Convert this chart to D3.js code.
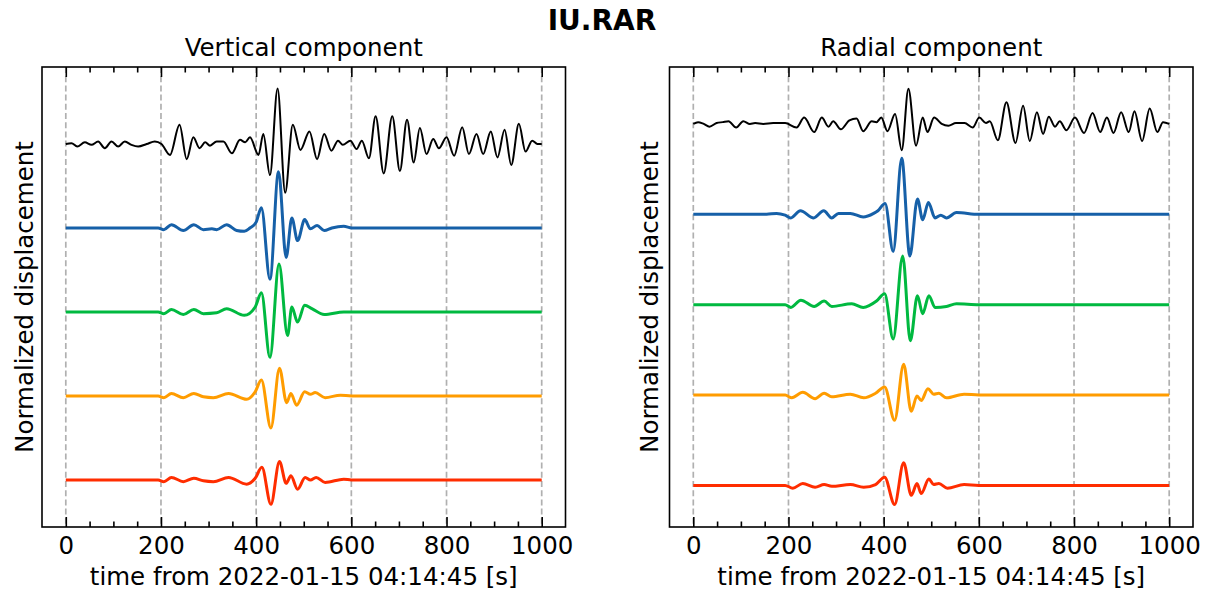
<!DOCTYPE html>
<html>
<head>
<meta charset="utf-8">
<script src="https://cdn.jsdelivr.net/npm/d3@7"></script>
<style>
body { margin: 0; background: #fff; }
svg { display: block; font-family: "DejaVu Sans", sans-serif; }
</style>
</head>
<body>
<svg id="chart" width="1210" height="590"></svg>
<script>
// station + panel text
const station = 'IU.RAR';
const panelTitles = ['Vertical component', 'Radial component'];
const xLabel = 'time from 2022-01-15 04:14:45 [s]';
const yLabel = 'Normalized displacement';
const majorTicks = [0, 200, 400, 600, 800, 1000];
const traceColors = ['#000000', '#1660a8', '#00b940', '#ff9c00', '#ff2d00'];

// traces: [time s, amplitude in trace-spacing units]
const vertBlack = [[0,0],[12,0.01],[24,-0.03],[40,0.02],[54,-0.01],[68,0.03],[82,-0.05],[96,0.03],[110,-0.03],[124,0.03],[138,-0.01],[152,-0.03],[170,0],[187,0.03],[201,0],[219,-0.13],[239,0.23],[254,-0.18],[268,0.08],[281,-0.05],[293,0.02],[303,-0.02],[317,0.03],[331,0.03],[349,-0.11],[366,0.05],[377,0.02],[387,0.08],[405,-0.13],[415,0.12],[429,-0.37],[445,0.66],[461,-0.58],[477,0.23],[493,-0.07],[512,0.15],[528,-0.18],[543,0.12],[558,-0.08],[572,0.04],[582,-0.01],[598,0.04],[611,-0.06],[622,0.04],[637,-0.17],[651,0.33],[668,-0.35],[686,0.33],[702,-0.32],[717,0.29],[731,-0.22],[744,0.19],[758,-0.12],[772,0.06],[784,-0.05],[800,0.08],[816,-0.14],[833,0.2],[847,-0.12],[863,0.12],[877,-0.12],[893,0.15],[907,-0.16],[922,0.17],[936,-0.25],[952,0.24],[966,-0.09],[980,0.04],[991,0],[1000,0]];
const vertBlue = [[0,0],[156,0],[194,0],[206,-0.02],[222,0.04],[247,-0.03],[269,0.04],[289,-0.02],[307,-0.01],[317,-0.02],[338,0.04],[359,-0.03],[375,-0.04],[387,0],[400,0.07],[411,0.24],[429,-0.61],[447,0.67],[463,-0.35],[475,0.12],[487,-0.15],[502,0.1],[514,-0.01],[528,0.03],[543,-0.03],[559,0],[584,0.02],[601,0],[1000,0]];
const vertGreen = [[0,0],[156,0],[194,0],[206,-0.02],[222,0.03],[247,-0.03],[269,0.03],[289,-0.02],[317,-0.01],[338,0.04],[375,-0.04],[398,0.06],[411,0.23],[429,-0.54],[448,0.57],[466,-0.28],[475,0.06],[487,-0.12],[502,0.08],[517,0.04],[543,-0.03],[584,0],[1000,0]];
const vertOrange = [[0,0],[156,0],[194,0],[206,-0.02],[222,0.03],[247,-0.02],[269,0.03],[289,-0.01],[310,-0.02],[342,0.03],[380,-0.04],[398,0.05],[411,0.19],[431,-0.38],[449,0.33],[464,-0.08],[473,0.03],[485,-0.11],[502,0.05],[514,0.02],[524,0.04],[545,-0.02],[577,0.01],[600,0],[1000,0]];
const vertRed = [[0,0],[156,0],[194,0],[206,-0.02],[222,0.03],[247,-0.02],[269,0.02],[289,-0.01],[310,-0.02],[342,0.03],[380,-0.05],[398,0.02],[412,0.15],[431,-0.29],[449,0.22],[463,-0.04],[473,0.05],[487,-0.11],[503,0.03],[514,0],[526,0.03],[545,-0.03],[584,0.01],[600,0],[1000,0]];

const radBlack = [[0,0],[10,0.02],[22,0],[34,-0.03],[49,0.01],[62,0.02],[74,0.03],[90,-0.04],[105,0.03],[119,0],[130,0.01],[147,0],[168,0.01],[193,0.01],[217,-0.04],[233,0.07],[254,-0.09],[270,0.07],[284,-0.03],[294,0.03],[310,-0.06],[328,0.04],[343,0.06],[357,-0.08],[375,0.03],[385,0.02],[395,0.07],[408,-0.08],[424,0.11],[438,-0.29],[452,0.39],[468,-0.24],[482,0.07],[492,-0.09],[506,0.07],[522,0],[536,-0.02],[552,0.01],[570,0.01],[587,-0.04],[601,0.07],[615,0.01],[623,0.03],[640,-0.18],[658,0.24],[677,-0.21],[693,0.2],[707,-0.19],[722,0.13],[735,-0.11],[747,0.08],[760,-0.03],[770,0.03],[784,-0.07],[802,0.07],[821,-0.1],[839,0.12],[855,-0.09],[869,0.07],[883,-0.1],[899,0.13],[915,-0.09],[927,0.14],[943,-0.19],[959,0.17],[975,-0.09],[987,0.02],[1000,0]];
const radBlue = [[0,0],[154,0],[175,0.01],[193,-0.01],[205,-0.04],[225,0.04],[253,-0.04],[274,0.04],[291,-0.04],[305,0.01],[330,0.01],[357,-0.03],[379,0.01],[388,0.04],[403,0.12],[420,-0.41],[438,0.62],[455,-0.46],[471,0.17],[482,-0.06],[494,0.13],[508,-0.04],[520,-0.01],[532,-0.04],[553,0.02],[600,0],[1000,0]];
const radGreen = [[0,0],[154,0],[193,0],[205,-0.03],[226,0.05],[254,-0.02],[275,0.04],[291,-0.02],[333,0.01],[357,-0.03],[385,0.04],[402,0.12],[420,-0.38],[440,0.54],[456,-0.4],[471,0.1],[482,-0.1],[495,0.1],[508,-0.03],[532,-0.02],[553,0.01],[600,0],[1000,0]];
const radOrange = [[0,0],[154,0],[193,0],[207,-0.03],[230,0.03],[256,-0.04],[275,0.02],[291,-0.02],[330,0.01],[358,-0.03],[383,0.02],[402,0.09],[423,-0.28],[442,0.34],[458,-0.18],[470,-0.01],[479,-0.06],[493,0.07],[505,0.01],[516,0.02],[532,-0.03],[569,0.01],[600,0],[1000,0]];
const radRed = [[0,0],[154,0],[193,0],[209,-0.03],[230,0.02],[256,-0.02],[275,0.01],[291,-0.01],[330,0.01],[358,-0.02],[383,0.01],[402,0.09],[423,-0.21],[442,0.25],[458,-0.11],[470,0.02],[479,-0.09],[495,0.07],[505,0.01],[516,0.02],[534,-0.03],[569,0.01],[600,0],[1000,0]];

const svg = d3.select('#chart');
const plotTop = 67, plotBottom = 527;
const fs = '24.5px';

const panels = [
  {title: panelTitles[0], left: 42, right: 565.5, ylo: -4.56, yhi: 0.917, labelX: 24,
   traces: [vertBlack, vertBlue, vertGreen, vertOrange, vertRed]},
  {title: panelTitles[1], left: 669.5, right: 1193, ylo: -4.46, yhi: 0.63, labelX: 649,
   traces: [radBlack, radBlue, radGreen, radOrange, radRed]}
];

svg.append('text')
  .attr('x', 602).attr('y', 30)
  .attr('text-anchor', 'middle')
  .style('font-size', '28px').style('font-weight', 'bold')
  .text(station);

panels.forEach(function(p) {
  const x = d3.scaleLinear().domain([-50, 1050]).range([p.left, p.right]);
  const y = d3.scaleLinear().domain([p.ylo, p.yhi]).range([plotBottom, plotTop]);
  const g = svg.append('g');
  const minor = d3.range(0, 1001, 50).filter(d => d % 200 !== 0);

  // dashed grid
  g.selectAll('line.grid')
    .data(majorTicks)
    .enter()
    .append('line')
    .attr('x1', d => x(d)).attr('x2', d => x(d))
    .attr('y1', plotTop).attr('y2', plotBottom)
    .attr('stroke', '#b0b0b0')
    .attr('stroke-width', 1.7)
    .attr('stroke-dasharray', '6,3.2');

  // traces, offset downwards one unit each
  const line = d3.line().curve(d3.curveMonotoneX);
  p.traces.forEach(function(tr, k) {
    g.append('path')
      .attr('d', line(tr.map(d => [x(d[0]), y(d[1] - k)])))
      .attr('fill', 'none')
      .attr('stroke', traceColors[k])
      .attr('stroke-width', k === 0 ? 2 : 3)
      .attr('stroke-linejoin', 'round');
  });

  // ticks on bottom and top, pointing in
  const bAxis = g.append('g').attr('transform', 'translate(0,' + plotBottom + ')')
    .call(d3.axisBottom(x).tickValues(majorTicks).tickSize(-10).tickPadding(10).tickFormat(d3.format('d')));
  g.append('g').attr('transform', 'translate(0,' + plotBottom + ')')
    .call(d3.axisBottom(x).tickValues(minor).tickSize(-5.5).tickFormat(''));
  g.append('g').attr('transform', 'translate(0,' + plotTop + ')')
    .call(d3.axisTop(x).tickValues(majorTicks).tickSize(-10).tickFormat(''));
  g.append('g').attr('transform', 'translate(0,' + plotTop + ')')
    .call(d3.axisTop(x).tickValues(minor).tickSize(-5.5).tickFormat(''));
  g.selectAll('.domain').remove();
  g.selectAll('.tick line').attr('stroke', '#000').attr('stroke-width', 1.6);
  bAxis.selectAll('text')
    .style('font-size', fs)
    .style('font-family', '"DejaVu Sans", sans-serif')
    .attr('fill', '#000');

  // frame
  g.append('rect')
    .attr('x', p.left).attr('y', plotTop)
    .attr('width', p.right - p.left).attr('height', plotBottom - plotTop)
    .attr('fill', 'none').attr('stroke', '#000').attr('stroke-width', 1.6);

  g.append('text')
    .attr('x', (p.left + p.right) / 2).attr('y', 56)
    .attr('text-anchor', 'middle')
    .style('font-size', fs)
    .text(p.title);

  g.append('text')
    .attr('x', (p.left + p.right) / 2).attr('y', 585)
    .attr('text-anchor', 'middle')
    .style('font-size', fs)
    .text(xLabel);

  g.append('text')
    .attr('transform', 'translate(' + p.labelX + ',' + ((plotTop + plotBottom) / 2) + ') rotate(-90)')
    .attr('text-anchor', 'middle')
    .attr('dy', '0.35em')
    .style('font-size', fs)
    .text(yLabel);
});
</script>
</body>
</html>
